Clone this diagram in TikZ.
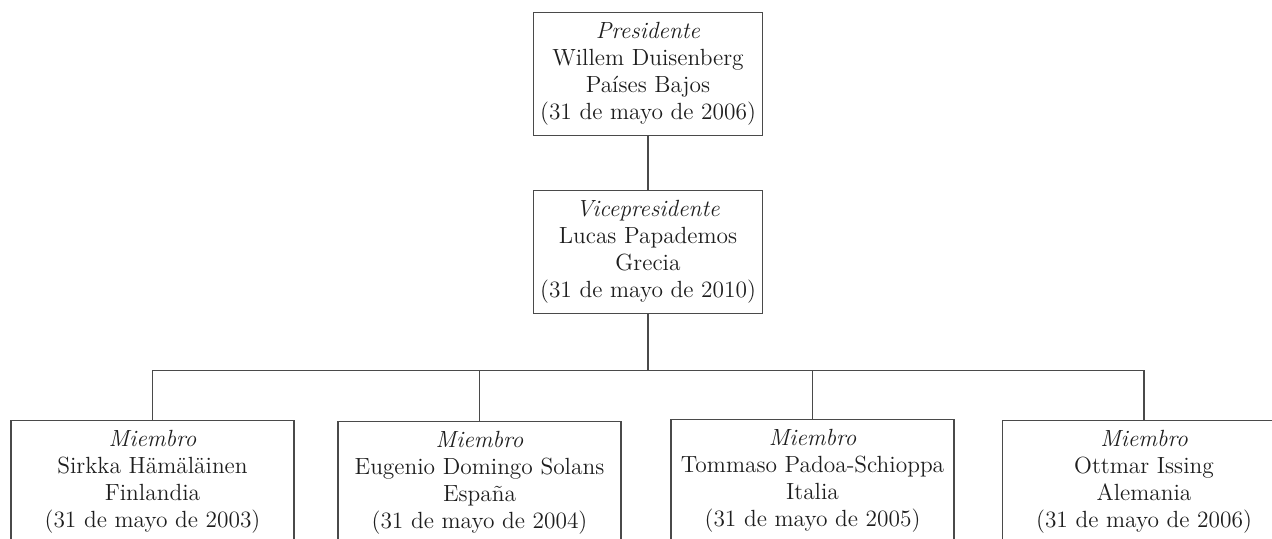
\documentclass[tikz,border=0pt]{standalone}
\usetikzlibrary{positioning, calc}
\definecolor{figink}{HTML}{1E1E1E}
\definecolor{figline}{HTML}{4A4A4A}

\begin{document}
\begin{tikzpicture}[
  x=0.5pt, y=-0.5pt,
  line width=0.7pt, line cap=butt, line join=miter,
  cargo/.style = {draw=figline, line width=0.7pt, fill=white,
                  align=center, inner sep=2pt, anchor=north,
                  minimum height=61.5pt, text=figink,
                  font=\fontsize{11.7}{13.5}\selectfont},
  alto/.style  = {cargo, minimum width=114.5pt},
  bajo/.style  = {cargo, minimum width=141.5pt},
  enlace/.style = {draw=figline, line width=0.7pt}
]
\useasboundingbox (0,0) rectangle (1272,539);
\begin{scope}
\clip (0,0) rectangle (1272,539);

\node[alto] (pres) at (648,12) {\textit{Presidente}\\Willem Duisenberg\\Países Bajos\\(31 de mayo de 2006)};
\node[alto] (vice) at (648,190) {\textit{Vicepresidente}\\Lucas Papademos\\Grecia\\(31 de mayo de 2010)};

% miembros
\node[bajo] (m1) at (152.5,420) {\textit{Miembro}\\Sirkka Hämäläinen\\Finlandia\\(31 de mayo de 2003)};
\node[bajo] (m2) at (479.5,421) {\textit{Miembro}\\Eugenio Domingo Solans\\España\\(31 de mayo de 2004)};
\node[bajo] (m3) at (812.5,419) {\textit{Miembro}\\Tommaso Padoa-Schioppa\\Italia\\(31 de mayo de 2005)};
\node[bajo] (m4) at (1144,420) {\textit{Miembro}\\Ottmar Issing\\Alemania\\(31 de mayo de 2006)};

\coordinate (bus) at ($(vice.south)+(0,56)$);

\draw[enlace] (pres.south) -- (vice.north);
\draw[enlace] (vice.south) -- (bus);
\draw[enlace] (m1.north) |- (bus) -| (m4.north);
\draw[enlace] (m2.north) -- (m2.north |- bus);
\draw[enlace] (m3.north) -- (m3.north |- bus);
\end{scope}

\end{tikzpicture}
\end{document}
